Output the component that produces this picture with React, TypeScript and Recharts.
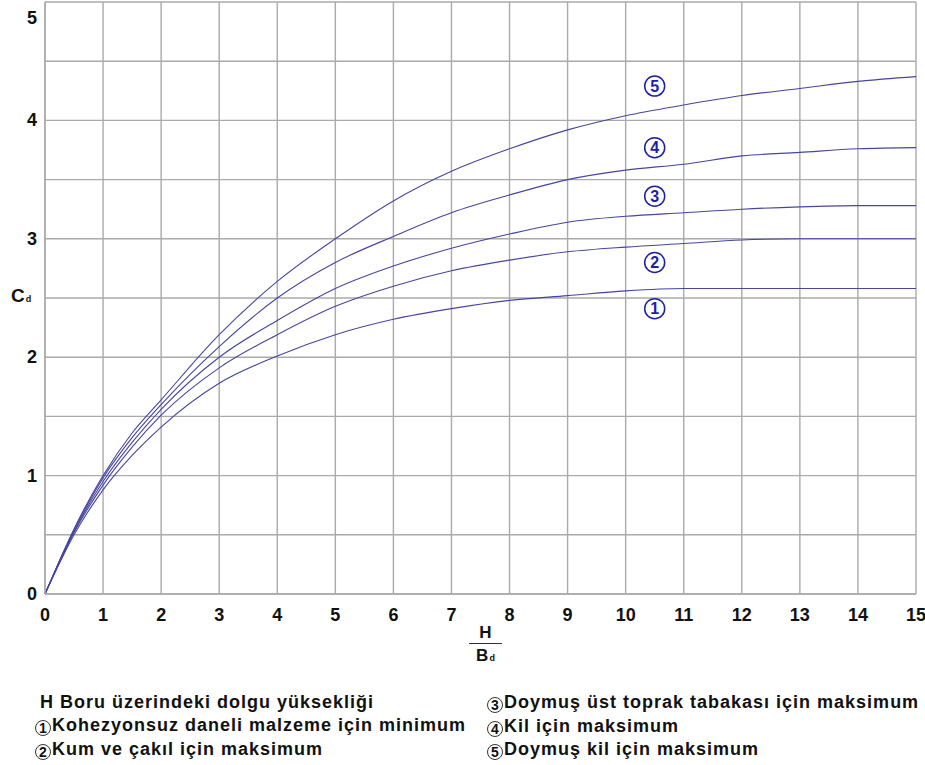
import React from 'react';
import { LineChart, Line, XAxis, YAxis, CartesianGrid, ReferenceDot } from 'recharts';

const ratio = [0, 0.5, 1, 1.5, 2, 3, 4, 5, 6, 7, 8, 9, 10, 11, 12, 13, 14, 15];

// Cd curves, 1 = lowest, 5 = highest
const curve1 = [0, 0.5, 0.88, 1.17, 1.41, 1.78, 2.01, 2.19, 2.32, 2.41, 2.48, 2.52, 2.56, 2.58, 2.58, 2.58, 2.58, 2.58];
const curve2 = [0, 0.52, 0.92, 1.24, 1.51, 1.91, 2.19, 2.43, 2.6, 2.73, 2.82, 2.89, 2.93, 2.96, 2.99, 3.0, 3.0, 3.0];
const curve3 = [0, 0.53, 0.95, 1.28, 1.56, 2.0, 2.31, 2.58, 2.77, 2.92, 3.04, 3.14, 3.19, 3.22, 3.25, 3.27, 3.28, 3.28];
const curve4 = [0, 0.54, 0.98, 1.32, 1.6, 2.09, 2.5, 2.8, 3.02, 3.22, 3.37, 3.5, 3.58, 3.63, 3.7, 3.73, 3.76, 3.77];
const curve5 = [0, 0.55, 1.0, 1.36, 1.64, 2.19, 2.64, 3.0, 3.32, 3.57, 3.76, 3.92, 4.04, 4.13, 4.21, 4.27, 4.33, 4.37];

const xTicks = [0, 1, 2, 3, 4, 5, 6, 7, 8, 9, 10, 11, 12, 13, 14, 15];
const yTicks = [0, 0.5, 1, 1.5, 2, 2.5, 3, 3.5, 4, 4.5, 5];

// circled curve numbers on the plot
const markerX = 10.5;
const markerY = [2.41, 2.8, 3.36, 3.77, 4.29];

const noteTitle = 'H Boru üzerindeki dolgu yüksekliği';
const noteLeft = ['Kohezyonsuz daneli malzeme için minimum', 'Kum ve çakıl için maksimum'];
const noteRight = ['Doymuş üst toprak tabakası için maksimum', 'Kil için maksimum', 'Doymuş kil için maksimum'];

const data = ratio.map((x, i) => ({
  x,
  c1: curve1[i],
  c2: curve2[i],
  c3: curve3[i],
  c4: curve4[i],
  c5: curve5[i],
}));

const LINE = '#4545a2';
const MARK = '#1f1fa6';
const GRID = '#aaaaaa';
const FONT = '"Liberation Sans", Arial, sans-serif';

const noteStyle: React.CSSProperties = {
  position: 'absolute',
  fontSize: 18,
  letterSpacing: 1,
  lineHeight: '23.5px',
  whiteSpace: 'nowrap',
};

function Circled({ n }: { n: number }) {
  return (
    <span
      style={{
        display: 'inline-flex',
        alignItems: 'center',
        justifyContent: 'center',
        width: 16,
        height: 16,
        border: '1.3px solid #333',
        borderRadius: '50%',
        fontSize: 14,
        letterSpacing: 0,
        lineHeight: 1,
        marginRight: 1,
        verticalAlign: '-2px',
        boxSizing: 'border-box',
      }}
    >
      {n}
    </span>
  );
}

// y tick: only whole numbers get a label, the top one sits a bit lower
function YTick(props: any) {
  const { x, y, payload } = props;
  const v = payload.value;
  if (!Number.isInteger(v)) return null;
  return (
    <text x={x} y={y} dy={v === 5 ? 15 : 6} textAnchor="end" fontSize={18} fontWeight={700} fill="#111" fontFamily={FONT}>
      {v}
    </text>
  );
}

export default function App() {
  const keys = ['c1', 'c2', 'c3', 'c4', 'c5'];
  return (
    <div style={{ position: 'absolute', left: 0, top: 0, width: 925, height: 765, background: '#fff', fontFamily: FONT, fontWeight: 700, color: '#111' }}>
      <LineChart width={925} height={634} data={data} margin={{ top: 2, right: 9, left: 0, bottom: 0 }}>
        <CartesianGrid stroke={GRID} strokeWidth={1.4} />
        <XAxis
          dataKey="x"
          type="number"
          domain={[0, 15]}
          ticks={xTicks}
          height={40}
          axisLine={{ stroke: GRID, strokeWidth: 1.4 }}
          tickLine={false}
          tickSize={0}
          tickMargin={14}
          tick={{ fontSize: 18, fontWeight: 700, fill: '#111', fontFamily: FONT }}
        />
        <YAxis
          type="number"
          domain={[0, 5]}
          ticks={yTicks}
          width={45}
          axisLine={{ stroke: GRID, strokeWidth: 1.4 }}
          tickLine={false}
          tickSize={0}
          tickMargin={8}
          tick={YTick}
        />
        {keys.map((k) => (
          <Line key={k} type="monotone" dataKey={k} stroke={LINE} strokeWidth={1.1} dot={false} isAnimationActive={false} />
        ))}
        {markerY.map((y, i) => (
          <ReferenceDot
            key={i}
            x={markerX}
            y={y}
            r={10}
            fill="#fff"
            stroke={MARK}
            strokeWidth={1.5}
            label={{ value: String(i + 1), position: 'center', fill: MARK, fontSize: 16, fontWeight: 700, fontFamily: FONT }}
          />
        ))}
      </LineChart>

      {/* y axis title */}
      <div style={{ position: 'absolute', left: 11, top: 285, fontSize: 19 }}>
        C<span style={{ fontSize: 9, marginLeft: 1 }}>d</span>
      </div>

      {/* x axis title as a fraction */}
      <div style={{ position: 'absolute', left: 469, top: 624, width: 33, textAlign: 'center', fontSize: 17, lineHeight: '18px' }}>
        <div>H</div>
        <div style={{ borderTop: '1.5px solid #333', marginTop: 1, paddingTop: 3 }}>
          B<span style={{ fontSize: 9, marginLeft: 1 }}>d</span>
        </div>
      </div>

      {/* notes */}
      <div style={{ ...noteStyle, left: 40, top: 691 }}>{noteTitle}</div>
      {noteLeft.map((t, i) => (
        <div key={t} style={{ ...noteStyle, left: 35, top: 714 + i * 23.5 }}>
          <Circled n={i + 1} />
          {t}
        </div>
      ))}
      {noteRight.map((t, i) => (
        <div key={t} style={{ ...noteStyle, left: 487, top: 691 + i * 23.5 }}>
          <Circled n={i + 3} />
          {t}
        </div>
      ))}
    </div>
  );
}
